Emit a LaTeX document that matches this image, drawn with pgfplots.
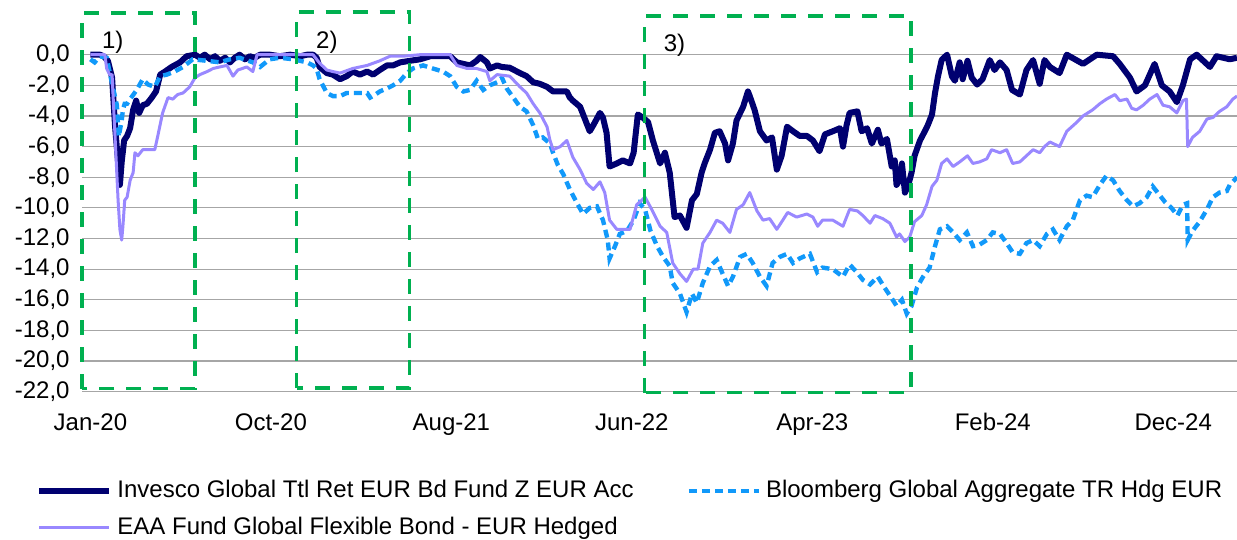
\documentclass[border=0pt]{standalone}
\usepackage{fontspec}
\setmainfont{Liberation Sans}
\usepackage{pgfplots}
\pgfplotsset{compat=1.18}
\usepackage{pgfplotstable}
\definecolor{cnavy}{RGB}{0,0,112}
\definecolor{cblue}{RGB}{17,153,250}
\definecolor{clav}{RGB}{153,136,255}
\definecolor{cgreen}{RGB}{0,176,80}
\definecolor{cgrid}{RGB}{166,166,166}
\newcommand{\fs}{\fontsize{12}{14.4}\selectfont}

% x = days since 1 Jan 2020, v = drawdown in %
\pgfplotstableread{
d v
0 0
16 0
22 -0.1
29 -0.4
36 -1.5
41 -4.7
46 -7.0
49 -8.5
52 -7.0
56 -5.6
61 -5.3
66 -4.8
71 -3.6
76 -3.0
81 -3.8
87 -3.3
94 -3.2
102 -2.8
109 -2.4
116 -1.3
124 -1.1
135 -0.8
149 -0.5
160 -0.1
174 0
182 -0.2
190 0
199 -0.3
207 -0.1
215 -0.4
224 -0.2
232 -0.5
240 -0.2
248 0
257 -0.3
265 -0.1
273 -0.2
282 0
298 0
315 -0.1
332 0
349 -0.1
360 0
370 0
376 -0.2
381 -0.8
393 -1.2
403 -1.3
415 -1.6
426 -1.4
436 -1.1
448 -1.3
460 -1.1
470 -1.3
481 -1.0
493 -0.7
503 -0.7
515 -0.5
531 -0.4
548 -0.3
565 -0.1
581 -0.1
598 -0.1
609 -0.5
620 -0.6
631 -0.7
642 -0.4
648 -0.15
659 -0.5
664 -0.9
676 -0.7
684 -0.8
697 -0.85
714 -1.2
725 -1.4
736 -1.8
747 -1.9
759 -2.1
769 -2.4
781 -2.4
792 -2.4
797 -2.8
802 -3.0
814 -3.4
825 -4.5
830 -5.0
836 -4.6
847 -3.8
852 -4.1
858 -5.1
863 -7.3
875 -7.1
885 -6.9
897 -7.1
903 -6.4
910 -3.9
918 -4.1
927 -4.4
935 -5.6
947 -7.1
955 -6.4
963 -7.7
971 -10.6
980 -10.5
991 -11.3
1000 -9.5
1008 -9.1
1016 -7.7
1021 -7.1
1030 -6.2
1038 -5.1
1046 -5.0
1055 -5.8
1060 -6.9
1068 -5.8
1074 -4.3
1085 -3.4
1093 -2.4
1096 -2.7
1104 -3.6
1113 -5.0
1124 -5.6
1133 -5.4
1141 -7.5
1149 -6.6
1158 -4.7
1168 -5.0
1179 -5.3
1191 -5.3
1201 -5.6
1212 -6.3
1221 -5.2
1234 -5.0
1246 -4.8
1251 -6.0
1257 -4.6
1262 -3.8
1275 -3.7
1282 -5.0
1291 -4.8
1299 -5.8
1309 -4.9
1315 -5.8
1324 -5.5
1332 -7.3
1337 -6.9
1340 -8.5
1345 -8.2
1349 -7.1
1354 -9.0
1359 -8.6
1365 -7.7
1370 -6.6
1379 -5.6
1387 -5.0
1392 -4.6
1399 -3.9
1404 -2.5
1409 -1.4
1415 -0.35
1424 0
1432 -1.4
1437 -1.7
1445 -0.5
1450 -1.6
1458 -0.4
1465 -1.5
1474 -1.95
1483 -1.6
1495 -0.35
1503 -1.0
1512 -0.5
1523 -1.0
1532 -2.3
1545 -2.6
1556 -1.0
1567 -0.35
1578 -1.9
1586 -0.35
1595 -0.8
1611 -1.2
1623 0
1650 -0.6
1673 0
1700 -0.1
1711 -0.6
1728 -1.5
1739 -2.4
1753 -2.0
1769 -0.6
1781 -2.0
1794 -2.4
1806 -3.1
1816 -2.0
1828 -0.3
1839 0
1861 -0.8
1872 -0.1
1894 -0.3
1906 -0.2
}\navytab

\pgfplotstableread{
d v
0 -0.3
7 -0.5
16 -0.1
27 -0.2
36 -1.9
44 -3.3
47 -5.35
52 -4.3
54 -3.6
57 -3.2
61 -3.2
66 -2.9
77 -2.3
87 -1.6
96 -1.95
107 -2.1
116 -1.4
127 -1.3
140 -1.1
154 -0.8
170 -0.3
194 -0.4
215 -0.5
232 -0.3
248 -0.2
270 -0.5
282 -0.8
298 -0.3
315 -0.2
337 -0.3
360 -0.5
370 -0.7
376 -0.9
381 -1.6
393 -2.5
403 -2.7
415 -2.7
426 -2.5
436 -2.5
448 -2.5
460 -2.5
465 -2.8
470 -2.7
481 -2.4
493 -2.2
503 -2.0
515 -1.7
526 -1.2
536 -0.9
553 -0.7
569 -0.9
586 -1.1
598 -1.4
609 -2.1
620 -2.4
631 -2.3
642 -1.7
653 -2.3
664 -2.0
676 -1.8
684 -1.5
692 -2.2
703 -2.8
714 -3.4
725 -3.7
736 -4.6
744 -5.5
752 -5.4
764 -5.8
769 -6.4
777 -7.2
786 -7.8
797 -8.8
809 -9.7
819 -10.4
830 -10.0
842 -9.9
852 -10.8
860 -12.1
863 -13.3
872 -12.5
880 -11.7
892 -11.5
903 -10.8
913 -9.7
922 -10.1
931 -11.5
942 -12.5
952 -13.2
963 -13.8
968 -14.9
980 -15.6
991 -16.8
1000 -15.6
1008 -16.2
1018 -14.9
1030 -13.8
1041 -13.4
1051 -14.3
1060 -15.1
1068 -14.5
1080 -13.2
1091 -13.0
1101 -13.6
1113 -14.5
1124 -15.1
1134 -13.6
1146 -13.2
1158 -13.0
1168 -13.6
1179 -13.3
1196 -13.0
1208 -14.2
1217 -13.9
1234 -14.0
1251 -14.5
1262 -13.7
1274 -14.2
1284 -14.7
1296 -15.0
1309 -14.5
1320 -15.2
1332 -15.9
1340 -16.4
1349 -16.0
1357 -16.9
1365 -16.4
1374 -15.2
1384 -14.5
1395 -13.9
1404 -12.5
1412 -11.4
1424 -11.2
1434 -11.6
1445 -12.1
1457 -11.6
1467 -12.5
1478 -12.4
1490 -12.1
1500 -11.6
1512 -11.7
1523 -12.3
1533 -12.9
1545 -13.0
1556 -12.3
1567 -12.1
1578 -12.5
1590 -11.7
1600 -11.4
1611 -12.1
1623 -11.2
1633 -10.8
1645 -9.5
1656 -9.2
1666 -9.3
1678 -8.5
1689 -7.9
1700 -8.2
1711 -8.9
1723 -9.5
1733 -9.9
1744 -9.7
1756 -9.3
1766 -8.6
1774 -9.0
1786 -9.6
1797 -10.0
1807 -10.5
1816 -9.8
1823 -9.7
1824 -12.1
1832 -11.5
1844 -10.9
1856 -10.1
1866 -9.3
1877 -9.0
1889 -8.9
1894 -8.5
1906 -8.0
}\bluetab

\pgfplotstableread{
d v
0 0
24 0
27 -0.9
32 -1.3
36 -1.3
41 -5.4
46 -9.5
49 -11.4
52 -12.1
54 -11.2
57 -9.5
61 -9.3
66 -8.2
71 -7.7
74 -6.4
79 -6.6
87 -6.2
99 -6.2
107 -6.2
112 -5.3
120 -3.8
129 -2.8
137 -2.9
145 -2.6
154 -2.5
165 -2.1
174 -1.5
182 -1.3
194 -1.1
204 -0.9
215 -0.8
227 -0.7
237 -1.4
245 -1.0
260 -0.8
270 -1.1
277 0
298 0
315 0
332 0
349 0
370 0
376 -0.3
381 -0.55
393 -1.0
403 -1.1
415 -1.2
436 -0.9
460 -0.7
481 -0.4
498 -0.1
519 -0.1
548 0
598 0
609 -0.7
626 -0.9
642 -0.9
659 -1.1
664 -1.7
676 -1.3
697 -1.4
714 -2.1
725 -2.5
736 -3.2
747 -3.8
759 -4.7
764 -5.6
769 -6.2
781 -6.0
792 -5.6
802 -6.7
814 -7.5
825 -8.4
836 -8.8
847 -8.3
855 -9.0
863 -10.8
875 -11.4
885 -11.4
897 -11.4
908 -9.8
922 -9.3
933 -10.1
947 -11.2
958 -11.6
968 -13.6
980 -14.3
991 -14.8
1002 -14.0
1010 -14.0
1018 -12.3
1030 -11.6
1041 -10.8
1051 -11.0
1063 -11.6
1074 -10.1
1085 -9.8
1096 -9.0
1108 -10.2
1118 -10.8
1129 -10.7
1141 -11.4
1151 -10.8
1159 -10.3
1174 -10.6
1191 -10.4
1201 -10.6
1209 -11.2
1217 -10.8
1234 -10.8
1251 -11.2
1262 -10.1
1275 -10.2
1284 -10.5
1296 -11.0
1304 -10.5
1317 -10.7
1329 -11.0
1340 -11.9
1345 -11.7
1354 -12.2
1362 -11.9
1370 -10.9
1382 -10.5
1390 -9.8
1399 -8.6
1407 -8.2
1415 -7.1
1424 -6.8
1434 -7.3
1445 -7.0
1458 -6.6
1467 -7.1
1478 -7.0
1490 -6.8
1498 -6.2
1512 -6.4
1523 -6.2
1533 -7.1
1545 -7.0
1556 -6.6
1567 -6.2
1578 -6.4
1586 -6.0
1595 -5.7
1611 -6.0
1623 -5.0
1640 -4.4
1650 -4.0
1666 -3.6
1678 -3.2
1689 -2.9
1703 -2.6
1711 -3.0
1723 -2.9
1731 -3.5
1739 -3.6
1750 -3.3
1761 -2.9
1773 -2.6
1783 -3.3
1794 -3.4
1806 -3.8
1816 -3.0
1822 -2.9
1824 -6.0
1832 -5.4
1844 -5.0
1856 -4.2
1866 -4.1
1877 -3.7
1889 -3.4
1899 -2.9
1906 -2.7
}\lavtab

\begin{document}
\begin{tikzpicture}
\useasboundingbox (0,0) rectangle (618.5pt,270pt);
\begin{axis}[
  at={(41pt,74.15pt)}, anchor=south west,
  scale only axis, width=577.5pt, height=168.5pt,
  xmin=-14, xmax=1906, ymin=-22, ymax=0,
  xtick={0,300,600,900,1200,1500,1800},
  xticklabels={Jan-20,Oct-20,Aug-21,Jun-22,Apr-23,Feb-24,Dec-24},
  ytick={-22,-20,-18,-16,-14,-12,-10,-8,-6,-4,-2,0},
  yticklabel={\pgfmathprintnumber[fixed,fixed zerofill,precision=1,use comma,assume math mode=true]{\tick}},
  major tick length=0pt,
  axis line style={draw=none},
  ymajorgrids, grid style={color=cgrid, line width=0.6pt},
  clip=false,
  tick label style={font=\fs},
  yticklabel style={anchor=east, inner sep=0pt, xshift=-6pt},
  xticklabel style={anchor=north, inner sep=0pt, yshift=-10.6pt},
  legend columns=2,
  legend cell align=left,
  legend image code/.code={\draw[#1] (0pt,0pt) -- (35pt,0pt);},
  legend style={at={(axis description cs:-0.0398,-0.2638)}, anchor=north west,
    draw=none, fill=none, font=\fs, inner sep=0pt, row sep=8.5pt,
    nodes={inner sep=0pt, text height=0.85em, text depth=0.15em},
    /tikz/every odd column/.append style={column sep=2.5pt},
    /tikz/every even column/.append style={column sep=26.5pt}},
]
\addplot[color=cnavy, line width=3pt, line join=round] table[x=d,y=v] {\navytab};
\addlegendentry{Invesco Global Ttl Ret EUR Bd Fund Z EUR Acc}
\addplot[color=cblue, line width=2.2pt, dash pattern=on 4pt off 2.5pt] table[x=d,y=v] {\bluetab};
\addlegendentry{Bloomberg Global Aggregate TR Hdg EUR}
\addplot[color=clav, line width=1.5pt, line join=round] table[x=d,y=v] {\lavtab};
\addlegendentry{EAA Fund Global Flexible Bond - EUR Hedged}

\draw[cgreen, line width=1.6pt, dash pattern=on 7.5pt off 6pt] (axis cs:-14,-21.8) rectangle (axis cs:174,2.72);
\draw[cgreen, line width=1.6pt, dash pattern=on 7.5pt off 6pt] (axis cs:343,-21.76) rectangle (axis cs:531,2.79);
\draw[cgreen, line width=1.6pt, dash pattern=on 7.5pt off 6pt] (axis cs:921.5,-22.06) rectangle (axis cs:1364,2.53);
\node[font=\fs] at (axis cs:37,0.83) {1)};
\node[font=\fs] at (axis cs:393,0.83) {2)};
\node[font=\fs] at (axis cs:971,0.63) {3)};
\end{axis}
\end{tikzpicture}
\end{document}
